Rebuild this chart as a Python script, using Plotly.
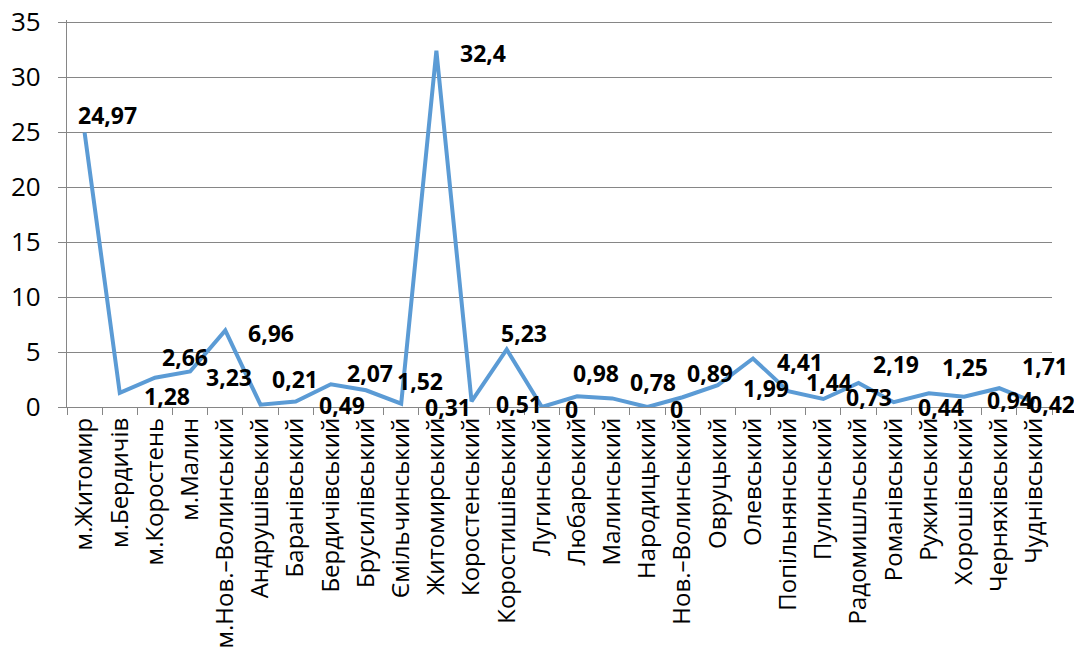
import plotly.graph_objects as go

categories = [
    "м.Житомир", "м.Бердичів", "м.Коростень", "м.Малин", "м.Нов.–Волинський",
    "Андрушівський", "Баранівський", "Бердичівський", "Брусилівський", "Ємільчинський",
    "Житомирський", "Коростенський", "Коростишівський", "Лугинський", "Любарський",
    "Малинський", "Народицький", "Нов.–Волинський", "Овруцький", "Олевський",
    "Попільнянський", "Пулинський", "Радомишльський", "Романівський", "Ружинський",
    "Хорошівський", "Черняхівський", "Чуднівський",
]
values = [
    24.97, 1.28, 2.66, 3.23, 6.96,
    0.21, 0.49, 2.07, 1.52, 0.31,
    32.4, 0.51, 5.23, 0, 0.98,
    0.78, 0, 0.89, 1.99, 4.41,
    1.44, 0.73, 2.19, 0.44, 1.25,
    0.94, 1.71, 0.42,
]
y_ticks = [0, 5, 10, 15, 20, 25, 30, 35]

# label offsets in pixels (style only): right / down relative to the point
label_dx = [23, 47, 30, 39, 46, 35, 46, 39, 54, 47, 47, 47, 17, 30, 19,
            41, 29, 27, 48, 47, 41, 46, 37, 47, 36, 46, 46, 18]
label_dy = [-17, 3, -21, 6, 3, -26, 3, -11, -9, 3, 2, 3, -17, 2, -23,
            -16, 2, -24, 3, 3, -9, -2, -19, 5, -26, 3, -22, 2]


def fmt(v):
    s = ("%g" % v)
    return s.replace(".", ",")


fig = go.Figure()
fig.add_trace(go.Scatter(
    x=categories, y=values, mode="lines",
    line=dict(color="#5B9BD5", width=4),
    hoverinfo="skip", showlegend=False,
))

for c, v, dx, dy in zip(categories, values, label_dx, label_dy):
    fig.add_annotation(
        x=c, y=v, xref="x", yref="y", text="<b>" + fmt(v) + "</b>",
        showarrow=False, xshift=dx, yshift=-dy, xanchor="center", yanchor="middle",
        font=dict(family="Open Sans", size=23, color="#000000"),
    )

fig.update_layout(
    width=1082, height=649,
    margin=dict(l=59, r=38, t=12, b=250),
    paper_bgcolor="white", plot_bgcolor="white",
    font=dict(family="Open Sans", color="#000000"),
)
fig.update_xaxes(
    type="category", tickson="boundaries", ticks="outside", ticklen=7,
    tickcolor="#868686", tickwidth=1.3, showline=True, linecolor="#868686", linewidth=1.3,
    tickangle=-90, tickfont=dict(family="Open Sans", size=24, color="#000000"),
    showgrid=False, range=[-0.5, len(categories) - 0.5], automargin=False,
    ticklabeloverflow="allow",
)
fig.update_yaxes(
    range=[0, 35.2], tickvals=y_ticks, ticktext=[str(t) for t in y_ticks],
    ticks="outside", ticklen=8, tickcolor="#868686", tickwidth=1.3,
    showline=True, linecolor="#868686", linewidth=1.3,
    showgrid=True, gridcolor="#868686", gridwidth=1.3, zeroline=False,
    tickfont=dict(family="Open Sans", size=26, color="#000000"),
    ticklabelstandoff=12, automargin=False, ticklabeloverflow="allow",
)

fig.write_html("out.html")
